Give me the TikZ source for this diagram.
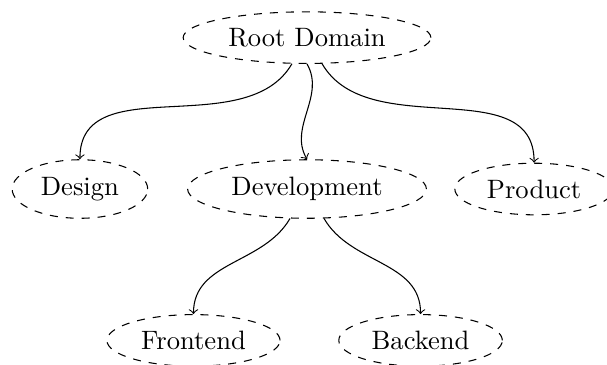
\documentclass[tikz,border=0pt]{standalone}
\usetikzlibrary{shapes.geometric}
\begin{document}
\begin{tikzpicture}[
  topic/.style={ellipse, draw, dashed},
  link/.style={->}
]
\useasboundingbox (-4.056,-2.312) rectangle (3.963,2.497);
% domain tree
\node[topic] (root) at (0,2) {Root Domain};
\node[topic] (design) at (-3,0) {Design};
\node[topic] (dev) at (0,0) {Development};
\node[topic] (product) at (3,0) {Product};
\node[topic] (front) at (-1.5,-2) {Frontend};
\node[topic] (back) at (1.5,-2) {Backend};
% curved links from parent to child
\draw[link] (root) to[out=-120,in=90] (design);
\draw[link] (root.south) to[out=-60,in=120] (dev.north);
\draw[link] (root) to[out=-60,in=90] (product);
\draw[link] (dev) to[out=-120,in=90] (front);
\draw[link] (dev) to[out=-60,in=90] (back);
\end{tikzpicture}
\end{document}
